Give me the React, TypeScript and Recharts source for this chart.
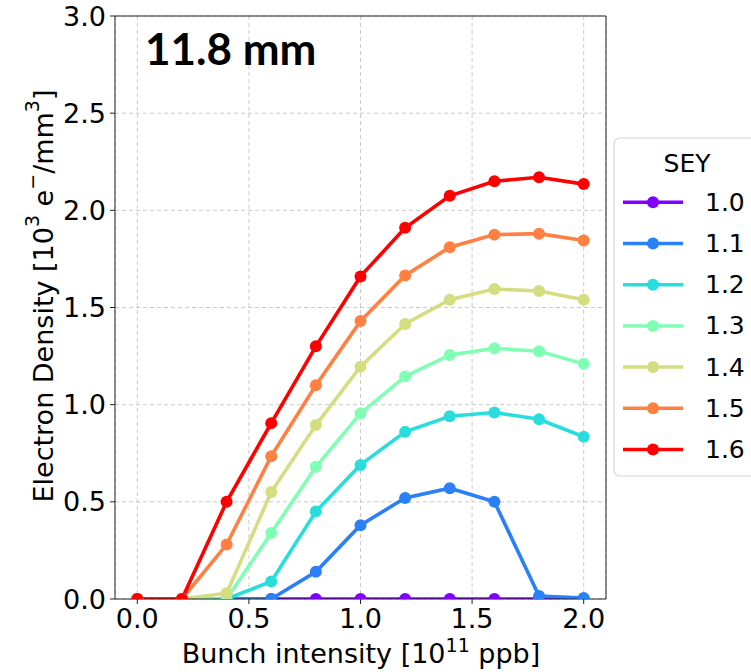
import React from "react";
import {
  CartesianGrid,
  Label,
  Line,
  LineChart,
  ReferenceLine,
  XAxis,
  YAxis,
} from "recharts";

// bunch intensity [1e11 ppb]
const intensity = [0.0, 0.2, 0.4, 0.6, 0.8, 1.0, 1.2, 1.4, 1.6, 1.8, 2.0];

// electron density [1e3 e-/mm3], one list per SEY
const sey10 = [0, 0, 0, 0, 0, 0, 0, 0, 0, 0, 0];
const sey11 = [0, 0, 0, 0, 0.14, 0.38, 0.52, 0.57, 0.5, 0.015, 0.005];
const sey12 = [0, 0, 0, 0.09, 0.45, 0.69, 0.86, 0.94, 0.96, 0.925, 0.835];
const sey13 = [0, 0, 0, 0.34, 0.68, 0.955, 1.145, 1.255, 1.29, 1.275, 1.21];
const sey14 = [0, 0, 0.03, 0.55, 0.895, 1.195, 1.415, 1.54, 1.595, 1.585, 1.54];
const sey15 = [0, 0, 0.28, 0.735, 1.1, 1.43, 1.665, 1.81, 1.875, 1.88, 1.845];
const sey16 = [0, 0, 0.5, 0.905, 1.3, 1.66, 1.91, 2.075, 2.15, 2.17, 2.135];

const seyLabels = ["1.0", "1.1", "1.2", "1.3", "1.4", "1.5", "1.6"];
const seyValues = [sey10, sey11, sey12, sey13, sey14, sey15, sey16];
// rainbow colormap sampled at 7 steps
const seyColors = [
  "#8000ff",
  "#2a80f6",
  "#2adddd",
  "#80ffb4",
  "#d4dd80",
  "#ff8042",
  "#ff0000",
];

const xTicks = [0, 0.5, 1.0, 1.5, 2.0];
const yTicks = [0, 0.5, 1.0, 1.5, 2.0, 2.5, 3.0];

const rows = intensity.map((x, i) => {
  const row: Record<string, number> = { x };
  seyLabels.forEach((s, k) => {
    row["s" + s] = seyValues[k][i];
  });
  return row;
});

const FONT = "DejaVu Sans";

function YTitle() {
  const cx = 43;
  const cy = 296;
  return (
    <text
      x={cx}
      y={cy}
      transform={`rotate(-90, ${cx}, ${cy})`}
      textAnchor="middle"
      dominantBaseline="central"
      fontFamily={FONT}
      fontSize={27}
      fill="#000"
    >
      Electron Density [10
      <tspan dy={-11} fontSize={19}>3</tspan>
      <tspan dy={11}> e</tspan>
      <tspan dy={-11} fontSize={19}>−</tspan>
      <tspan dy={11}>/mm</tspan>
      <tspan dy={-11} fontSize={19}>3</tspan>
      <tspan dy={11}>]</tspan>
    </text>
  );
}

function XTitle() {
  return (
    <text
      x={361}
      y={663}
      textAnchor="middle"
      fontFamily={FONT}
      fontSize={27}
      fill="#000"
    >
      Bunch intensity [10
      <tspan dy={-11} fontSize={19}>11</tspan>
      <tspan dy={11}> ppb]</tspan>
    </text>
  );
}

function SeyLegend() {
  return (
    <g>
      <rect
        x={614}
        y={138}
        width={170}
        height={338}
        rx={6}
        fill="#fff"
        fillOpacity={0.85}
        stroke="#d6d6d6"
        strokeWidth={1.2}
      />
      <text
        x={687}
        y={172}
        textAnchor="middle"
        fontFamily={FONT}
        fontSize={25}
        fill="#000"
      >
        SEY
      </text>
      {seyLabels.map((s, k) => {
        const y = 202.3 + k * 41.2;
        return (
          <g key={s}>
            <line
              x1={623}
              x2={683}
              y1={y}
              y2={y}
              stroke={seyColors[k]}
              strokeWidth={3.5}
            />
            <circle cx={653} cy={y} r={6} fill={seyColors[k]} />
            <text
              x={705}
              y={y}
              dominantBaseline="central"
              fontFamily={FONT}
              fontSize={25}
              fill="#000"
            >
              {s}
            </text>
          </g>
        );
      })}
    </g>
  );
}

export default function App() {
  return (
    <div
      style={{
        position: "absolute",
        left: 0,
        top: 0,
        width: 751,
        height: 672,
        background: "#fff",
      }}
    >
      <LineChart
        width={751}
        height={672}
        data={rows}
        margin={{ top: 16, right: 145, left: 0, bottom: 0 }}
      >
        <CartesianGrid
          stroke="#c4c4c4"
          strokeDasharray="4 3"
          strokeWidth={0.9}
        />
        <XAxis
          dataKey="x"
          type="number"
          domain={[-0.1, 2.1]}
          ticks={xTicks}
          allowDataOverflow
          height={73}
          tickSize={5}
          tickMargin={5}
          tickFormatter={(v: number) => v.toFixed(1)}
          tick={{ fill: "#000", fontSize: 27, fontFamily: FONT }}
          stroke="#222"
        >
          <Label content={<XTitle />} />
        </XAxis>
        <YAxis
          type="number"
          domain={[0, 3]}
          ticks={yTicks}
          allowDataOverflow
          width={115}
          tickSize={5}
          tickMargin={4}
          tickFormatter={(v: number) => v.toFixed(1)}
          tick={{ fill: "#000", fontSize: 27, fontFamily: FONT }}
          stroke="#222"
        >
          <Label content={<YTitle />} />
        </YAxis>
        {seyLabels.map((s, k) => (
          <Line
            key={s}
            dataKey={"s" + s}
            name={s}
            type="linear"
            stroke={seyColors[k]}
            strokeWidth={3.6}
            dot={{ r: 6, fill: seyColors[k], stroke: "none" }}
            activeDot={false}
            isAnimationActive={false}
          />
        ))}
        <ReferenceLine x={2.1} stroke="#222" strokeWidth={1} />
        <ReferenceLine y={3} stroke="#222" strokeWidth={1} />
      </LineChart>
      <svg
        width={751}
        height={672}
        style={{ position: "absolute", left: 0, top: 0, pointerEvents: "none" }}
      >
        <text
          x={145}
          y={65}
          fontFamily="Lato, 'Open Sans', sans-serif"
          fontWeight="bold"
          fontSize={44}
          fill="#000"
        >
          11.8 mm
        </text>
        <SeyLegend />
      </svg>
    </div>
  );
}
